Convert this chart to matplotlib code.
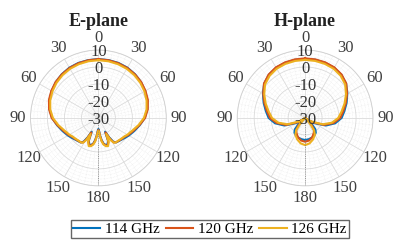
import matplotlib.pyplot as plt
import numpy as np

plt.rcParams['font.family'] = ['Liberation Serif', 'DejaVu Serif']

# half-pattern angles (deg) and gains (dB); patterns are symmetric about 0-180
e_ang = [0, 10, 20, 30, 40, 50, 60, 70, 80, 90, 100, 110, 120, 126, 132, 138, 144,
         148, 151, 154, 157, 161, 165, 169, 172, 175, 178, 180]
e_114 = [4.7, 4.6, 4.5, 4.2, 3.6, 2.8, 1.8, 0.7, -0.8, -2.7, -5.3, -7.5, -9.3, -10.3,
         -11.2, -11.8, -12.2, -13.5, -17, -21, -15.5, -13.5, -13.5, -14.8, -17, -20, -23, -23.5]
e_120 = [4.6, 4.5, 4.3, 4.0, 3.5, 2.9, 2.0, 1.0, -0.5, -2.5, -5.5, -8.0, -9.8, -11,
         -11.5, -12, -12.3, -13, -16, -20.5, -15, -13, -13.2, -14.5, -16.5, -19.5, -22.5, -23]
e_126 = [4.0, 3.9, 3.7, 3.4, 2.9, 2.2, 1.3, 0.2, -1.2, -3.2, -6, -8.6, -10.3, -11.3,
         -11.8, -12.2, -12.3, -12.8, -15, -19.5, -14.5, -12.5, -12.8, -14, -16, -19, -22, -22.5]

h_ang = [0, 10, 20, 30, 40, 50, 60, 70, 80, 90, 100, 110, 120, 126, 130, 134, 138,
         144, 150, 160, 170, 180]
h_114 = [4.8, 4.8, 4.6, 4.2, 3.2, 1.5, -1.3, -4.0, -6.5, -8.5, -12, -17, -24, -29,
         -30, -24, -21, -19.3, -18.6, -17.8, -17.3, -17]
h_120 = [5.1, 5.0, 4.8, 4.4, 3.4, 1.6, -1.5, -4.5, -7.2, -9.3, -13, -18, -25, -28.5,
         -30, -28, -24, -21, -19.8, -17.8, -16.5, -16]
h_126 = [4.2, 4.1, 3.9, 3.5, 2.5, 0.8, -2.2, -5.3, -8.2, -10.5, -14, -19, -26, -28.5,
         -29.5, -30, -26, -21, -18.5, -16.5, -14.8, -14]

freqs = ['114 GHz', '120 GHz', '126 GHz']
colors = ['#0072BD', '#D95319', '#EDB120']
theta_ticks = [0, 30, 60, 90, 120, 150, 180, 210, 240, 270, 300, 330]
theta_labels = ['0', '30', '60', '90', '120', '150', '180', '150', '120', '90', '60', '30']
r_ticks = [-30, -20, -10, 0, 10]


def full(ang, val):
    a = np.array(ang + [360 - x for x in ang[::-1][1:]])
    v = np.array(val + val[::-1][1:])
    return np.deg2rad(a), v


fig = plt.figure(figsize=(3.96, 2.46), dpi=100)
axes = [fig.add_axes([0.077, 0.244, 0.343, 0.553], projection='polar'),
        fig.add_axes([0.599, 0.244, 0.343, 0.553], projection='polar')]
planes = [('E-plane', e_ang, [e_114, e_120, e_126]),
          ('H-plane', h_ang, [h_114, h_120, h_126])]

for ax, (title, ang, series) in zip(axes, planes):
    ax.set_theta_zero_location('N')
    ax.set_theta_direction(-1)
    for vals, c, lab in zip(series, colors, freqs):
        th, r = full(ang, vals)
        ax.plot(th, r, color=c, lw=1.5, label=lab)
    ax.set_rlim(-30, 10)
    ax.set_thetagrids(theta_ticks, theta_labels)
    ax.set_xticks(np.deg2rad(np.arange(0, 360, 6)), minor=True)
    ax.set_yticks(r_ticks)
    ax.set_yticks(np.arange(-30, 11, 2), minor=True)
    ax.set_yticklabels([])
    ax.grid(True, which='major', color='#dadada', lw=0.6)
    ax.grid(True, which='minor', color='#e6e6e6', lw=0.4, ls=':')
    ax.spines['polar'].set_color('#d0d0d0')
    ax.spines['polar'].set_linewidth(0.6)
    ax.tick_params(axis='x', pad=2, labelsize=12, colors='#404040')
    ax.tick_params(which='both', length=0)
    ax.axvline(np.pi, color='#808080', lw=0.6, ls=':')
    for rv in r_ticks:
        ax.annotate(str(rv), (0, rv), xytext=(0, -1.5), textcoords='offset points',
                    ha='center', va='center', fontsize=12, color='#333333')
    ax.set_title(title, fontsize=13, fontweight='bold', pad=0, color='#222222')

handles, labels = axes[0].get_legend_handles_labels()
fig.legend(handles, labels, loc='center', bbox_to_anchor=(0.530, 0.069), ncol=3,
           fontsize=11, frameon=True, fancybox=False, edgecolor='#404040',
           handlelength=1.8, handletextpad=0.3, columnspacing=0.4, borderpad=0.15,
           borderaxespad=0, handleheight=0.5)

fig.savefig('out.png', dpi=100)
